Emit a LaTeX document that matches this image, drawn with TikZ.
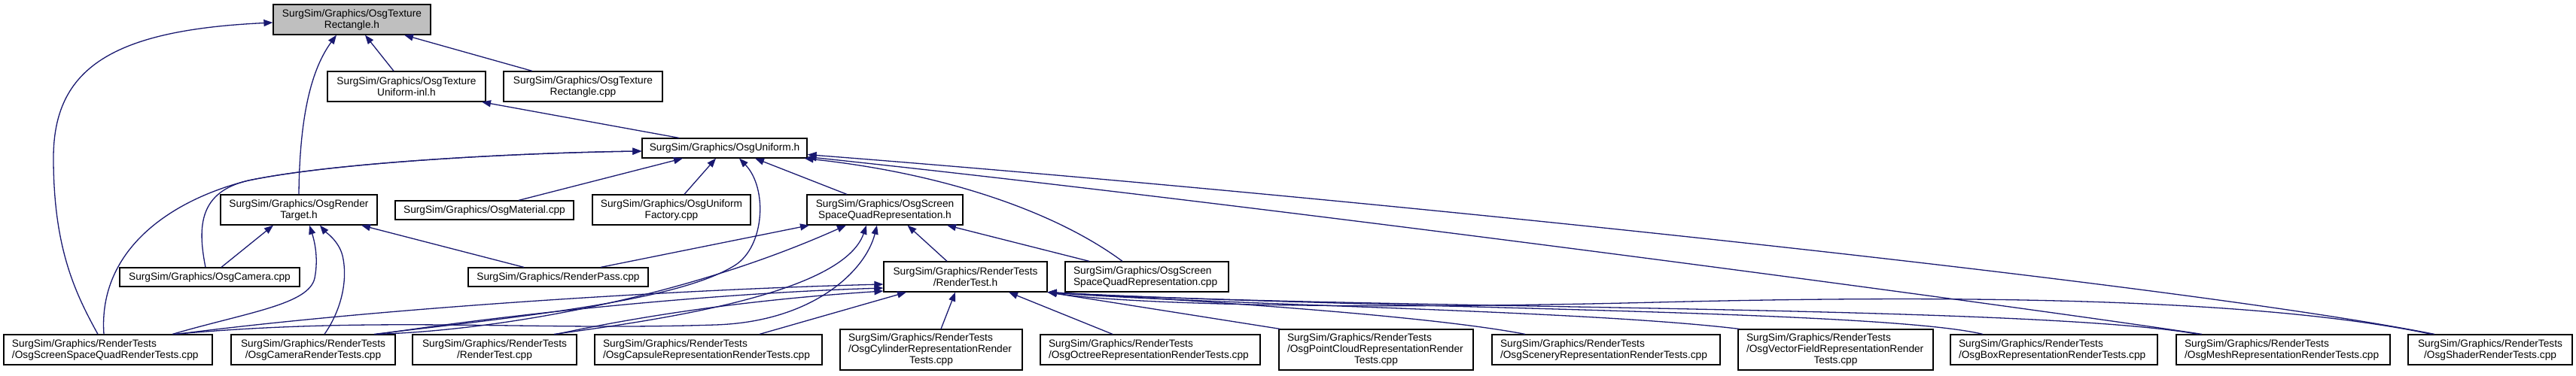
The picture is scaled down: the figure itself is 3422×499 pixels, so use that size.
\documentclass[tikz,border=0pt]{standalone}
\usepackage{fontspec}
\setmainfont{Liberation Sans}
\usetikzlibrary{arrows.meta}
\definecolor{edgeblue}{HTML}{191970}
\definecolor{trgray}{HTML}{BFBFBF}
\newcommand{\nodefont}{\fontsize{13.7}{15}\selectfont}
\tikzset{
  box/.style={draw=black, line width=1.2pt, fill=white, inner sep=0pt, align=center, font=\nodefont, minimum height=40pt},
  lbox/.style={box, align=left},
  edge/.style={draw=edgeblue, line width=1.3pt, -{Triangle[length=12pt,width=9pt]}}
}
\begin{document}
\begin{tikzpicture}[x=1pt,y=-1pt]
\useasboundingbox (0,0) rectangle (3422,499);
% row 1
\node[box, fill=trgray, minimum width=209] (TR) at (467.5,26) {SurgSim/Graphics/OsgTexture\\Rectangle.h};
% row 2
\node[box, minimum width=210] (UI) at (540,115) {SurgSim/Graphics/OsgTexture\\Uniform-inl.h};
\node[box, minimum width=211] (TRcpp) at (774.5,115) {SurgSim/Graphics/OsgTexture\\Rectangle.cpp};
% row 3
\node[box, minimum width=219, minimum height=26] (U) at (962.5,197) {SurgSim/Graphics/OsgUniform.h};
% row 4
\node[box, minimum width=208] (RT) at (397,279) {SurgSim/Graphics/OsgRender\\Target.h};
\node[box, minimum width=237, minimum height=25] (Mat) at (643.5,279.5) {SurgSim/Graphics/OsgMaterial.cpp};
\node[box, minimum width=210] (UF) at (892,279) {SurgSim/Graphics/OsgUniform\\Factory.cpp};
\node[box, minimum width=207] (SSQh) at (1175.5,279) {SurgSim/Graphics/OsgScreen\\SpaceQuadRepresentation.h};
% row 5
\node[box, minimum width=239, minimum height=25] (Cam) at (278.5,368.5) {SurgSim/Graphics/OsgCamera.cpp};
\node[box, minimum width=239, minimum height=25] (RP) at (741.5,368.5) {SurgSim/Graphics/RenderPass.cpp};
\node[box, minimum width=217] (RTh) at (1282.5,368) {SurgSim/Graphics/RenderTests\\/RenderTest.h};
\node[lbox, minimum width=217, text width=195] (SSQcpp) at (1523.5,368) {SurgSim/Graphics/OsgScreen\\SpaceQuadRepresentation.cpp};
% row 6
\node[lbox, minimum width=277, text width=255] (SSQRT) at (143.5,465) {SurgSim/Graphics/RenderTests\\/OsgScreenSpaceQuadRenderTests.cpp};
\node[box, minimum width=218] (CamRT) at (416,465) {SurgSim/Graphics/RenderTests\\/OsgCameraRenderTests.cpp};
\node[box, minimum width=218] (RTcpp) at (657,465) {SurgSim/Graphics/RenderTests\\/RenderTest.cpp};
\node[lbox, minimum width=302, text width=280] (Caps) at (941,465) {SurgSim/Graphics/RenderTests\\/OsgCapsuleRepresentationRenderTests.cpp};
\node[lbox, minimum width=242, text width=220, minimum height=54] (Cyl) at (1237,465) {SurgSim/Graphics/RenderTests\\/OsgCylinderRepresentationRender\\\hfill Tests.cpp\hfill\null};
\node[lbox, minimum width=292, text width=270] (Oct) at (1528,465) {SurgSim/Graphics/RenderTests\\/OsgOctreeRepresentationRenderTests.cpp};
\node[lbox, minimum width=258, text width=236, minimum height=54] (PC) at (1828,465) {SurgSim/Graphics/RenderTests\\/OsgPointCloudRepresentationRender\\\hfill Tests.cpp\hfill\null};
\node[lbox, minimum width=303, text width=281] (Scen) at (2133.5,465) {SurgSim/Graphics/RenderTests\\/OsgSceneryRepresentationRenderTests.cpp};
\node[lbox, minimum width=259, text width=237, minimum height=54] (VF) at (2438.5,465) {SurgSim/Graphics/RenderTests\\/OsgVectorFieldRepresentationRender\\\hfill Tests.cpp\hfill\null};
\node[lbox, minimum width=275, text width=253] (Box) at (2728.5,465) {SurgSim/Graphics/RenderTests\\/OsgBoxRepresentationRenderTests.cpp};
\node[lbox, minimum width=284, text width=262] (Mesh) at (3033,465) {SurgSim/Graphics/RenderTests\\/OsgMeshRepresentationRenderTests.cpp};
\node[box, minimum width=218] (Shader) at (3308,465) {SurgSim/Graphics/RenderTests\\/OsgShaderRenderTests.cpp};

% edges to OsgTextureRectangle.h
\draw[edge] ([xshift=-13.5pt]SSQRT.north) .. controls (100,390) and (71,330) .. (71,210) .. controls (71,90) and (150,40) .. ([yshift=-4pt]TR.west);
\draw[edge] (RT.north) .. controls (398,150) and (415,90) .. ([xshift=-20.5pt]TR.south);
\draw[edge] ([xshift=-17pt]UI.north) -- ([xshift=17.5pt]TR.south);
\draw[edge] ([xshift=-67.5pt]TRcpp.north) -- ([xshift=69.5pt]TR.south);
% edge to Uniform-inl.h
\draw[edge] ([xshift=-60.5pt]U.north) -- ([xshift=100pt]UI.south);
% edges to OsgUniform.h
\draw[edge] ([xshift=45.5pt]Mat.north) -- ([xshift=-55.5pt]U.south);
\draw[edge] ([xshift=17pt]UF.north) -- ([xshift=-11.5pt]U.south);
\draw[edge] ([xshift=-50.5pt]SSQh.north) -- ([xshift=40.5pt]U.south);
\draw[edge] ([xshift=81pt]CamRT.north) .. controls (700,420) and (900,400) .. (976,353) .. controls (1016,328) and (1020,250) .. ([xshift=19.5pt]U.south);
\draw[edge] ([xshift=-5.5pt]Cam.north) .. controls (262,300) and (265,255) .. (330,240) .. controls (450,215) and (700,203) .. ([yshift=-4pt]U.west);
\draw[edge] ([xshift=-5.5pt]SSQRT.north) .. controls (130,330) and (230,265) .. (330,240) .. controls (450,215) and (700,203) .. ([yshift=-4pt]U.west);
\draw[edge] ([xshift=-32.5pt]SSQcpp.north) .. controls (1400,280) and (1250,230) .. ([xshift=-4pt]U.south east);
\draw[edge] ([xshift=-108pt]Mesh.north) .. controls (2700,410) and (1700,275) .. ([yshift=2pt]U.south east);
\draw[edge] ([xshift=-74pt]Shader.north) .. controls (2900,378) and (1800,262) .. ([yshift=5pt]U.south east);
% edges to OsgRenderTarget.h
\draw[edge] ([xshift=15.5pt]Cam.north) -- ([xshift=-34pt]RT.south);
\draw[edge] ([xshift=85.5pt]SSQRT.north) .. controls (330,415) and (410,405) .. (418,370) .. controls (424,340) and (416,315) .. ([xshift=14pt]RT.south);
\draw[edge] ([xshift=15pt]CamRT.north) .. controls (455,410) and (462,370) .. (455,340) .. controls (450,320) and (432,308) .. ([xshift=28pt]RT.south);
\draw[edge] ([xshift=-45.5pt]RP.north) -- ([xshift=83pt]RT.south);
% edges to OsgScreenSpaceQuadRepresentation.h
\draw[edge] ([xshift=56.5pt]RP.north) -- ([xshift=-100.5pt]SSQh.south);
\draw[edge] ([xshift=-24.5pt]RTh.north) -- ([xshift=30pt]SSQh.south);
\draw[edge] ([xshift=-76.5pt]SSQcpp.north) -- ([xshift=82.5pt]SSQh.south);
\draw[edge] ([xshift=84pt]CamRT.north) .. controls (650,440) and (900,400) .. ([xshift=-51.5pt]SSQh.south);
\draw[edge] ([xshift=79pt]RTcpp.north) .. controls (880,425) and (1120,390) .. ([xshift=-24.5pt]SSQh.south);
\draw[edge] ([xshift=88.5pt]SSQRT.north) .. controls (500,420) and (700,440) .. (950,432) .. controls (1080,428) and (1150,360) .. ([xshift=-10.5pt]SSQh.south);
% edges to RenderTest.h
\draw[edge] ([xshift=91pt]SSQRT.north) .. controls (500,410) and (900,385) .. ([yshift=-10pt]RTh.west);
\draw[edge] ([xshift=86pt]CamRT.north) .. controls (700,415) and (950,390) .. ([yshift=-15pt]RTh.west);
\draw[edge] ([xshift=82pt]RTcpp.north) .. controls (900,410) and (1050,395) .. ([yshift=-19pt]RTh.west);
\draw[edge] ([xshift=68pt]Caps.north) -- ([xshift=-78.5pt]RTh.south);
\draw[edge] ([xshift=13pt]Cyl.north) -- ([xshift=-13.5pt]RTh.south);
\draw[edge] ([xshift=-50pt]Oct.north) -- ([xshift=57.5pt]RTh.south);
\draw[edge] ([xshift=2pt]PC.north west) -- (RTh.south east);
\draw[edge] ([xshift=-107.5pt]Scen.north) .. controls (1900,420) and (1600,400) .. (RTh.south east);
\draw[edge] ([xshift=2pt]VF.north west) .. controls (2100,412) and (1600,405) .. (RTh.south east);
\draw[edge] ([xshift=-94.5pt]Box.north) .. controls (2500,412) and (1800,410) .. (RTh.south east);
\draw[edge] ([xshift=-113pt]Mesh.north) .. controls (2700,405) and (1800,412) .. (RTh.south east);
\draw[edge] ([xshift=-78pt]Shader.north) .. controls (3000,396) and (2600,392) .. (2200,402) .. controls (1800,412) and (1500,405) .. (RTh.south east);
\end{tikzpicture}
\end{document}
